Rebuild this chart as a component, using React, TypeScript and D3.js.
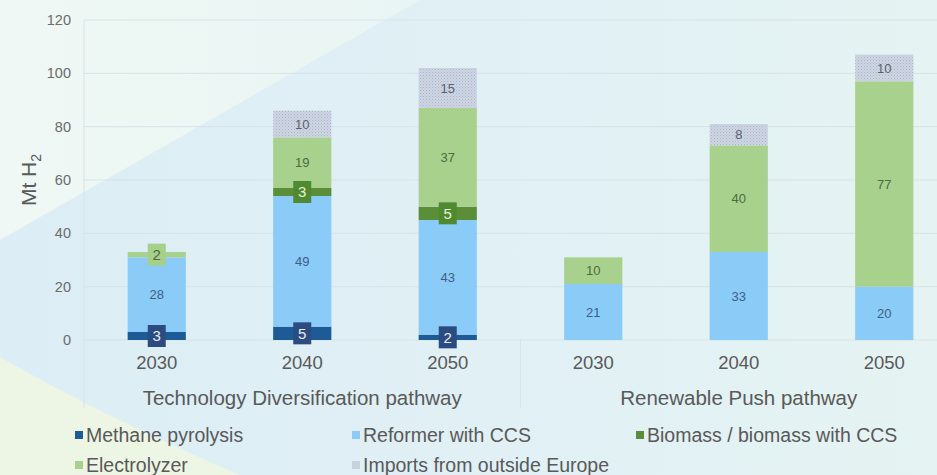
import React from "react";
import * as d3 from "d3";

const categories = ["2030", "2040", "2050", "2030", "2040", "2050"];
const groups = ["Technology Diversification pathway", "Renewable Push pathway"];
const methane = [3, 5, 2, 0, 0, 0];
const reformer = [28, 49, 43, 21, 33, 20];
const biomass = [0, 3, 5, 0, 0, 0];
const electrolyzer = [2, 19, 37, 10, 40, 77];
const imports = [0, 10, 15, 0, 8, 10];
const yTicks = [0, 20, 40, 60, 80, 100, 120];
const seriesNames = [
  "Methane pyrolysis",
  "Reformer with CCS",
  "Biomass / biomass with CCS",
  "Electrolyzer",
  "Imports from outside Europe",
];

const W = 937;
const H = 475;
const FONT = "'Liberation Sans', Arial, sans-serif";

const keys = ["methane", "reformer", "biomass", "electrolyzer", "imports"];
const fills = ["#1D5B97", "#8BCBF8", "#5A8E38", "#A9D18E", "url(#dots)"];
const legendFills = ["#1D5B97", "#8BCBF8", "#5A8E38", "#A9D18E", "#C9D1DE"];
const labelColors = ["#E6ECF5", "#3C5F86", "#E8F1DA", "#4E6B40", "#5A5F70"];
const boxFills = ["#2C4B80", null, "#4F8A30", "#A6CF8A", null];

export default function App() {
  const table = categories.map((c, i) => ({
    i,
    methane: methane[i],
    reformer: reformer[i],
    biomass: biomass[i],
    electrolyzer: electrolyzer[i],
    imports: imports[i],
  }));
  const stacked = d3.stack<any>().keys(keys)(table);

  const x = d3
    .scaleBand<number>()
    .domain(categories.map((_, i) => i))
    .range([84, 957])
    .paddingInner(0.6)
    .paddingOuter(0.3);
  const y = d3.scaleLinear().domain([0, 120]).range([340, 20]);
  const bw = x.bandwidth();

  const groupCenters = [
    ((x(0) as number) + (x(2) as number) + bw) / 2,
    ((x(3) as number) + (x(5) as number) + bw) / 2,
  ];
  const divider = ((x(2) as number) + bw + (x(3) as number)) / 2;

  const legendPos = [
    [75, 435],
    [352, 435],
    [636, 435],
    [75, 465],
    [352, 465],
  ];

  return (
    <svg width={W} height={H} style={{ position: "absolute", left: 0, top: 0, fontFamily: FONT }}>
      <defs>
        <pattern id="dots" width="3" height="3" patternUnits="userSpaceOnUse">
          <rect width="3" height="3" fill="#CFD6E3" />
          <rect x="0" y="0" width="1" height="1" fill="#A9B4C8" />
          <rect x="1.5" y="1.5" width="1" height="1" fill="#B3BDD0" />
        </pattern>
        <linearGradient id="bg" x1="0" y1="0" x2="1" y2="0">
          <stop offset="0" stopColor="#DCEDF5" />
          <stop offset="0.5" stopColor="#E0F0F5" />
          <stop offset="1" stopColor="#E5F3F2" />
        </linearGradient>
        <linearGradient id="tl" x1="0" y1="0" x2="1" y2="0">
          <stop offset="0" stopColor="#EFF8F4" />
          <stop offset="1" stopColor="#E9F5F4" />
        </linearGradient>
      </defs>
      <rect width={W} height={H} fill="url(#bg)" />
      <polygon points="0,0 420,0 0,240" fill="url(#tl)" />
      <path d="M0,357 Q110,420 240,475 L0,475 Z" fill="#EDF6E4" />

      {/* gridlines */}
      {yTicks.map((t) => (
        <line key={t} x1={84} x2={W} y1={y(t)} y2={y(t)} stroke="#D6E4E8" strokeWidth={1} />
      ))}
      <line x1={84} x2={84} y1={20} y2={408} stroke="#D6E4E8" />
      <line x1={divider} x2={divider} y1={340} y2={408} stroke="#D6E4E8" />

      {/* y tick labels */}
      {yTicks.map((t) => (
        <text key={t} x={71} y={y(t)} dy="0.35em" textAnchor="end" fontSize={14.5} fill="#6B6B6B">
          {t}
        </text>
      ))}
      <text
        transform={`translate(36,180) rotate(-90)`}
        textAnchor="middle"
        fontSize={21}
        fill="#595959"
      >
        Mt H<tspan fontSize={14} dy={5}>2</tspan>
      </text>

      {/* bars */}
      {stacked.map((s, si) => (
        <g key={keys[si]}>
          {s.map((d, ci) =>
            d[1] - d[0] > 0 ? (
              <rect
                key={ci}
                x={x(ci)}
                width={bw}
                y={y(d[1])}
                height={y(d[0]) - y(d[1])}
                fill={fills[si]}
              />
            ) : null
          )}
        </g>
      ))}

      {/* labels */}
      {stacked.map((s, si) => (
        <g key={"l" + keys[si]}>
          {s.map((d, ci) => {
            const v = d[1] - d[0];
            if (v <= 0) return null;
            const cx = (x(ci) as number) + bw / 2;
            const cy = y((d[0] + d[1]) / 2);
            const boxed = v <= 5 && boxFills[si];
            return (
              <g key={ci}>
                {boxed ? (
                  <rect x={cx - 9} y={cy - 11} width={18} height={22} fill={boxFills[si] as string} />
                ) : null}
                <text
                  x={cx}
                  y={cy}
                  dy="0.36em"
                  textAnchor="middle"
                  fontSize={boxed ? 15 : 13}
                  fill={labelColors[si]}
                >
                  {v}
                </text>
              </g>
            );
          })}
        </g>
      ))}

      {/* category labels */}
      {categories.map((c, i) => (
        <text
          key={i}
          x={(x(i) as number) + bw / 2}
          y={369}
          textAnchor="middle"
          fontSize={18.5}
          fill="#595959"
        >
          {c}
        </text>
      ))}
      {groups.map((g, i) => (
        <text key={g} x={groupCenters[i]} y={405} textAnchor="middle" fontSize={20.5} fill="#595959">
          {g}
        </text>
      ))}

      {/* legend */}
      {seriesNames.map((n, i) => (
        <g key={n} transform={`translate(${legendPos[i][0]},${legendPos[i][1]})`}>
          <rect x={0} y={-4} width={8} height={8} fill={legendFills[i]} />
          <text x={11} y={0} dy="0.36em" fontSize={19.5} fill="#595959">
            {n}
          </text>
        </g>
      ))}
    </svg>
  );
}
